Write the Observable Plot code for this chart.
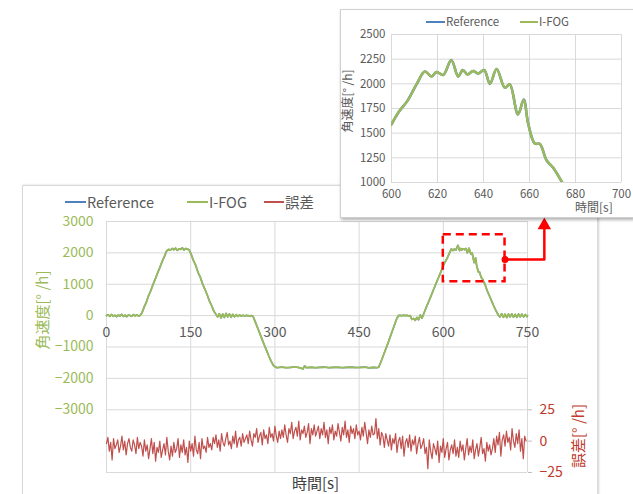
<!DOCTYPE html>
<html>
<head>
<meta charset="utf-8">
<script src="https://cdn.jsdelivr.net/npm/d3@7"></script>
<script src="https://cdn.jsdelivr.net/npm/@observablehq/plot@0.6"></script>
<style>
  body { margin: 0; background: #fff; font-family: "Noto Sans CJK JP", "Noto Sans", sans-serif; }
  #page { position: relative; width: 633px; height: 494px; overflow: hidden; background: #fff; }
  #mainPanel { position: absolute; left: 22px; top: 185px; width: 574px; height: 330px; border: 1px solid #d9d9d9; box-shadow: 1px 0 2px rgba(0,0,0,0.18); background: #fff; }
  #mainChart { position: absolute; left: 0; top: 0; z-index: 2; }
  #inset { position: absolute; left: 340px; top: 9px; width: 292px; height: 207px; border: 1px solid #d0d0d0; background: #fff; box-shadow: 1px 2px 3px rgba(0,0,0,0.3); z-index: 5; }
  #insetChart { position: absolute; left: 0; top: 0; }
  .lbl { position: absolute; white-space: nowrap; line-height: 1; }
  .leg { position: absolute; display: flex; align-items: center; white-space: nowrap; color: #595959; line-height: 1; }
  .leg i { display: inline-block; height: 2px; margin-right: 1px; }
  .rot { transform: translate(-50%, -50%) rotate(-90deg); }
</style>
</head>
<body>
<div id="page">
  <div id="mainPanel"></div>
  <div id="mainChart"></div>
  <div id="inset"><div id="insetChart"></div></div>
</div>
<script>
// ---------------- data ----------------
const seriesNames = ["Reference", "I-FOG", "誤差"];
const colors = { ref: "#4F81BD", ifog: "#9BBB59", err: "#C0504D", errText: "#C0392B", text: "#595959", grid: "#d9d9d9" };

// main time axis [s] and angular velocity [°/h]
const mainTime = [
  0,3,6,9,12,15,18,21,24,27,30,33,36,39,42,45,48,51,54,57,60,
  63,67,71,75,79,83,87,91,95,99,103,107,111,
  114,117,120,123,126,129,132,135,138,141,144,147,
  151,155,159,163,167,171,175,179,183,187,191,195,198,
  201,204,207,210,213,216,219,222,225,228,231,234,237,240,243,246,249,252,255,258,261,
  265,269,273,277,281,285,289,293,297,301,304,
  312,320,328,336,344,350,353,356,364,372,380,388,396,404,412,420,428,436,444,452,460,468,476,482,485,
  489,493,497,501,505,509,513,517,520,
  523,526,529,532,535,538,541,544,547,550,553,556,559,562,
  566,570,574,578,582,586,590,594,598,600,
  603,607,611,614.5,617.4,619.6,622.5,626,629,631,633,635.5,637.7,640.3,642.8,645.7,649.3,651.4,655,657.5,659.4,662.3,664.5,667.4,670.3,674.2,
  678,682,686,690,694,698,701,
  704,707,710,713,716,719,722,725,728,731,734,737,740,743,746,749,750
];
const ifogValues = [
  0,25,-20,35,-15,10,-30,20,-10,40,-25,15,-35,20,5,-20,30,-10,25,-15,10,
  80,270,430,640,800,1000,1170,1360,1530,1720,1880,2060,2110,
  2090,2140,2100,2150,2080,2130,2110,2160,2090,2140,2120,2100,
  1950,1750,1600,1380,1230,1020,850,680,480,330,150,40,-40,
  60,-70,50,-60,70,-40,55,-50,40,-35,30,-25,20,-15,10,-10,5,0,-10,0,-20,
  -200,-380,-560,-750,-930,-1100,-1280,-1440,-1580,-1640,-1660,
  -1640,-1660,-1650,-1635,-1660,-1700,-1600,-1660,-1645,-1660,-1650,-1640,-1660,-1650,-1645,-1660,-1650,-1640,-1655,-1650,-1640,-1665,-1650,-1660,-1640,
  -1470,-1280,-1090,-900,-700,-500,-300,-100,0,
  10,-5,15,0,10,-10,0,-120,-90,-150,-60,-130,20,-80,
  100,280,450,620,800,980,1150,1320,1500,1590,
  1710,1830,2000,2125,2075,2120,2090,2240,2075,2140,2095,2130,2105,2140,2000,2150,1960,1995,1690,1840,1600,1395,1390,1225,1150,1000,
  800,640,470,300,150,20,-40,
  60,-50,45,-60,50,-40,55,-45,40,-55,50,-35,45,-40,35,-30,0
];
// Reference coincides with I-FOG at this scale
const referenceValues = ifogValues.slice();

// error [°/h], sampled every 2.5 s from t = 0
const errStep = 2.5;
const errValues = [
  -2,3,-8,-1,-15,2,-6,-3,1,-9,-4,4,-7,0,-11,-2,2,-5,-8,1,-3,-10,3,-6,-1,
  -4,-12,1,-8,-3,-14,-6,2,-10,-1,-16,-5,-9,0,-13,-7,-2,-11,3,-8,-15,-4,-12,-1,-9,
  -6,2,-13,-3,-9,1,-11,-5,-17,0,-8,-2,-12,4,-7,-10,-1,-14,2,-6,-4,-9,3,-5,-2,
  -7,3,-2,5,-5,1,-8,6,-1,-4,2,7,-3,0,-6,4,-2,8,-5,1,3,-4,6,-1,2,
  5,-2,8,1,-4,6,3,10,-1,4,7,-3,9,2,5,-2,11,3,6,0,12,4,-1,8,2,
  9,3,13,5,-1,10,6,15,2,8,11,4,16,1,9,6,12,3,7,14,-2,10,5,13,4,
  8,12,2,10,5,15,3,9,-2,11,6,13,1,8,4,14,7,0,11,5,16,3,9,-1,12,
  6,10,2,13,5,8,1,11,4,15,7,-2,9,3,12,5,6,18,2,10,-3,7,4,-5,6,
  1,-4,5,-7,2,-2,6,-9,0,3,-6,4,-12,-1,2,-5,5,-8,1,-3,4,-10,-2,3,-6,
  -3,2,-10,-5,-22,1,-8,-14,-2,-6,-11,0,-17,-4,-9,2,-13,-6,-1,-15,-7,-3,-10,1,-12,
  -5,-13,0,-8,-3,-15,-6,2,-11,-4,-9,1,-14,-7,-2,-12,-5,3,-10,-6,-16,-1,-8,-3,-11,
  -6,2,-9,4,-3,7,-12,1,5,-4,8,-1,3,-7,10,0,-5,6,-2,9,-8,2,-14,4,0
];

// ticks
const xTicks = [0, 150, 300, 450, 600, 750];
const yTicks = [-3000, -2000, -1000, 0, 1000, 2000, 3000];
const errTicks = [-25, 0, 25];
const insetXTicks = [600, 620, 640, 660, 680, 700];
const insetYTicks = [1000, 1250, 1500, 1750, 2000, 2250, 2500];

// zoom region shown in inset (time range, value range) and callout path
const zoomTime = [600, 710];
const zoomValue = [1080, 2580];
const calloutTime = [710, 780, 780];
const calloutValue = [1790, 1790, 2800];
const arrowTipValue = [2880];

// ---------------- build ----------------
const mainData = mainTime.map((t, i) => ({ t, ifog: ifogValues[i], ref: referenceValues[i] }));
const errData = errValues.map((e, i) => ({ t: i * errStep, e }));
const errToLeft = e => -4000 + e * 40; // right axis [-25,175] onto left axis [-5000,3000]
const minus = d => (d < 0 ? "−" + Math.abs(d) : String(d));
const font = '"Noto Sans CJK JP", "Noto Sans", sans-serif';

const main = Plot.plot({
  width: 633, height: 494,
  marginLeft: 106, marginRight: 106, marginTop: 221, marginBottom: 22,
  x: { domain: [0, 750], axis: null },
  y: { domain: [-5000, 3000] },
  style: { fontFamily: font, background: "transparent", overflow: "visible" },
  marks: [
    Plot.gridX(xTicks, { stroke: colors.grid, strokeOpacity: 1 }),
    Plot.gridY(yTicks.concat([-5000]), { stroke: colors.grid, strokeOpacity: 1 }),
    Plot.axisY(yTicks, { anchor: "left", tickSize: 0, tickPadding: 13, fill: colors.ifog, fontSize: 14, label: null, tickFormat: minus }),
    Plot.axisY(errTicks.map(errToLeft), { anchor: "right", tickSize: 4, tickPadding: 8, stroke: "#bfbfbf", fill: colors.errText, fontSize: 14, label: null, tickFormat: d => minus(Math.round((d + 4000) / 40)) }),
    Plot.text(xTicks, { x: d => d, y: 0, dy: 17, text: d => String(d), fill: colors.text, fontSize: 14 }),
    Plot.line(errData, { x: "t", y: d => errToLeft(d.e), stroke: colors.err, strokeWidth: 1.2 }),
    Plot.line(mainData, { x: "t", y: "ref", stroke: colors.ref, strokeWidth: 1.6 }),
    Plot.line(mainData, { x: "t", y: "ifog", stroke: colors.ifog, strokeWidth: 1.8 }),
    Plot.rect([{ x1: zoomTime[0], x2: zoomTime[1], y1: zoomValue[0], y2: zoomValue[1] }], { x1: "x1", x2: "x2", y1: "y1", y2: "y2", fill: "none", stroke: "#FF0000", strokeWidth: 2.5, strokeDasharray: "8,5" }),
    Plot.line(calloutTime.map((t, i) => ({ t, v: calloutValue[i] })), { x: "t", y: "v", stroke: "#FF0000", strokeWidth: 2.5 }),
    Plot.dot([{ t: calloutTime[0], v: calloutValue[0] }], { x: "t", y: "v", r: 3.5, fill: "#FF0000" }),
    Plot.dot([{ t: calloutTime[2], v: arrowTipValue[0] }], { x: "t", y: "v", symbol: "triangle", r: 5, fill: "#FF0000" })
  ]
});
document.getElementById("mainChart").appendChild(main);

const insetData = mainData.filter(d => d.t >= 600 && d.t <= 676);
const inset = Plot.plot({
  width: 292, height: 207,
  marginLeft: 50, marginRight: 12, marginTop: 24, marginBottom: 35,
  x: { domain: [600, 700] },
  y: { domain: [1000, 2500] },
  style: { fontFamily: font, background: "transparent" },
  marks: [
    Plot.gridX(insetXTicks, { stroke: colors.grid, strokeOpacity: 1 }),
    Plot.gridY(insetYTicks, { stroke: colors.grid, strokeOpacity: 1 }),
    Plot.axisY(insetYTicks, { tickSize: 0, tickPadding: 6, fill: colors.text, fontSize: 11.5, label: null, tickFormat: d => String(d) }),
    Plot.axisX(insetXTicks, { tickSize: 0, tickPadding: 7, fill: colors.text, fontSize: 11.5, label: null, tickFormat: d => String(d) }),
    Plot.line(insetData, { x: "t", y: "ref", stroke: colors.ref, strokeWidth: 2.6, curve: "catmull-rom", clip: true }),
    Plot.line(insetData, { x: "t", y: "ifog", stroke: colors.ifog, strokeWidth: 2.4, curve: "catmull-rom", clip: true })
  ]
});
document.getElementById("insetChart").appendChild(inset);

// ---------------- text: legends and titles ----------------
const page = document.getElementById("page");
function add(html, style, cls) {
  const el = document.createElement("div");
  el.className = cls || "lbl";
  el.innerHTML = html;
  Object.assign(el.style, style);
  page.appendChild(el);
  return el;
}
function legendItem(name, color, left, top, fontSize, lineW) {
  add(`<i style="width:${lineW}px;background:${color}"></i><span>${name}</span>`, { left: left + "px", top: top + "px", fontSize: fontSize + "px", zIndex: 6 }, "leg");
}
// main legend
legendItem(seriesNames[0], colors.ref, 65, 195, 14.5, 21);
legendItem(seriesNames[1], colors.ifog, 187, 195, 14.5, 21);
legendItem(seriesNames[2], colors.err, 264, 195, 14.5, 20);
// inset legend
legendItem(seriesNames[0], colors.ref, 426, 16, 11.5, 19);
legendItem(seriesNames[1], colors.ifog, 520, 16, 11.5, 18);

// axis titles
add("角速度[°&nbsp;/h]", { left: "41px", top: "310px", fontSize: "15px", color: colors.ifog, zIndex: 3 }, "lbl rot");
add("誤差[°&nbsp;/h]", { left: "577px", top: "436px", fontSize: "15px", color: colors.errText, zIndex: 3 }, "lbl rot");
add("時間[s]", { left: "292px", top: "475px", fontSize: "15px", color: "#404040", zIndex: 3 });
add("角速度[°&nbsp;/h]", { left: "347px", top: "101px", fontSize: "12px", color: colors.text, zIndex: 6 }, "lbl rot");
add("時間[s]", { left: "575px", top: "201px", fontSize: "12px", color: colors.text, zIndex: 6 });
</script>
</body>
</html>
